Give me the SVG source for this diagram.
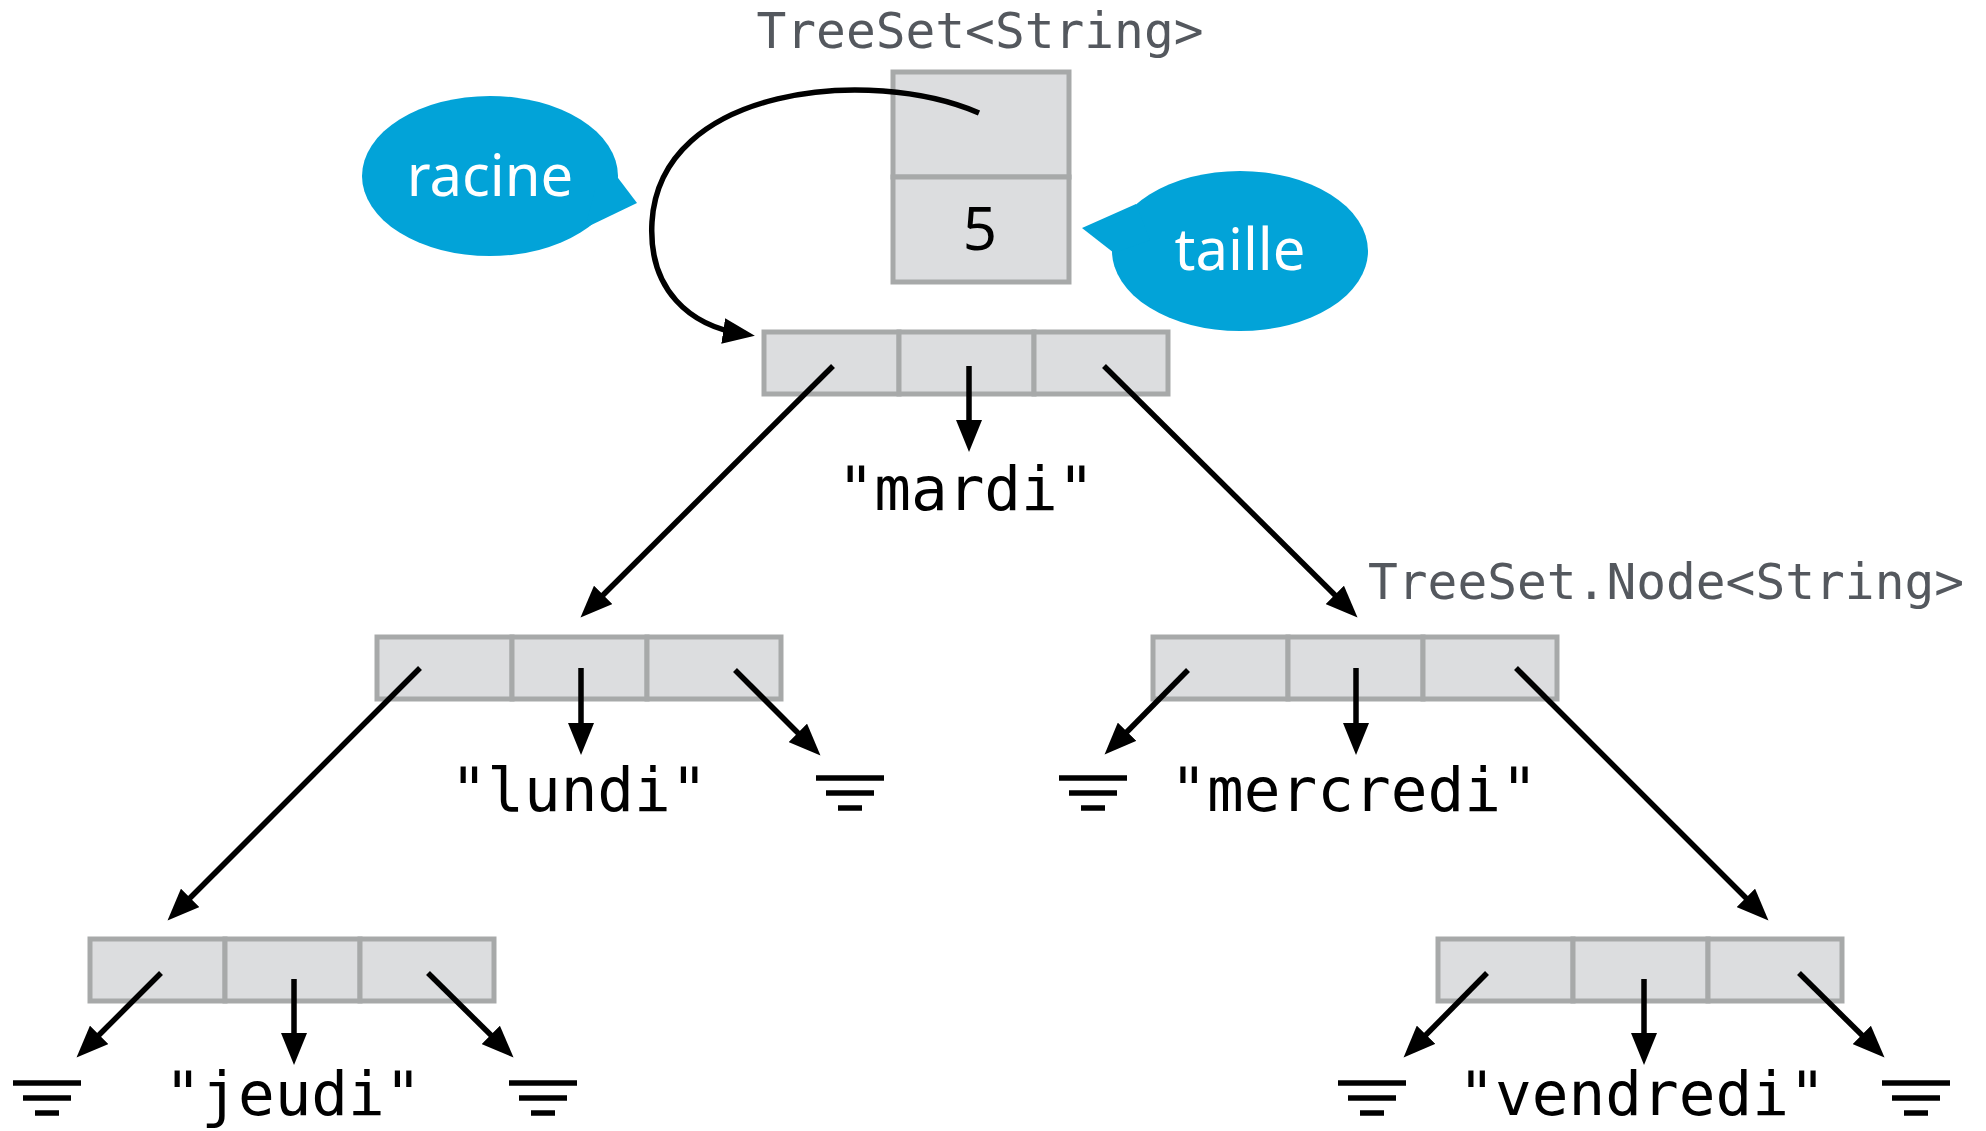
<svg xmlns="http://www.w3.org/2000/svg" width="1986" height="1131" viewBox="0 0 1986 1131">
<defs>
<style>
.cell{fill:#dcdddf;stroke:#a7a9a9;stroke-width:5}
.lbl{font-family:"DejaVu Sans Mono",monospace;font-size:49.5px;fill:#54585e}
.str{font-family:"DejaVu Sans Mono",monospace;font-size:61px;fill:#000;text-anchor:middle}
.bub{fill:#02a3d8}
.btxt{font-family:"Noto Sans","Lato",sans-serif;font-size:58px;fill:#fff;text-anchor:middle}
.c{fill:none;stroke:#000;stroke-width:5.5;marker-end:url(#ah)}
.g{stroke:#000;stroke-width:5.5}
</style>
<marker id="ah" markerUnits="userSpaceOnUse" markerWidth="34" markerHeight="26" refX="20" refY="13" orient="auto" viewBox="0 0 34 26">
<path d="M0,0 L32,13 L0,26 z" fill="#000"/>
</marker>
<g id="gnd">
<line class="g" x1="-34" y1="0" x2="34" y2="0"/>
<line class="g" x1="-24" y1="15" x2="24" y2="15"/>
<line class="g" x1="-12" y1="30" x2="12" y2="30"/>
</g>
</defs>
<rect width="1986" height="1131" fill="#fff"/>

<g id="treeset">
<text class="lbl" x="980" y="48" text-anchor="middle">TreeSet&lt;String&gt;</text>
<rect class="cell" x="893" y="72" width="176" height="105"/>
<rect class="cell" x="893" y="177" width="176" height="105"/>
<text x="980" y="250" font-family="Noto Sans, sans-serif" font-size="60" text-anchor="middle" fill="#000">5</text>
</g>

<g id="bubble-racine">
<ellipse class="bub" cx="490" cy="176" rx="128" ry="80"/>
<polygon class="bub" points="612,170 637,203 585,228 595,190"/>
<text class="btxt" x="490" y="196">racine</text>
</g>
<g id="bubble-taille">
<ellipse class="bub" cx="1240" cy="251" rx="128" ry="80"/>
<polygon class="bub" points="1136,204 1082,228 1114,253 1150,240"/>
<text class="btxt" x="1240" y="270">taille</text>
</g>

<g id="node-mardi">
<rect class="cell" x="764" y="332" width="135" height="62"/>
<rect class="cell" x="899" y="332" width="135" height="62"/>
<rect class="cell" x="1034" y="332" width="134" height="62"/>
<text class="str" x="966" y="510">"mardi"</text>
</g>
<text class="lbl" x="1368" y="599">TreeSet.Node&lt;String&gt;</text>

<g id="node-lundi">
<rect class="cell" x="377" y="637" width="135" height="62"/>
<rect class="cell" x="512" y="637" width="135" height="62"/>
<rect class="cell" x="647" y="637" width="134" height="62"/>
<text class="str" x="579" y="811">"lundi"</text>
</g>
<g id="node-mercredi">
<rect class="cell" x="1153" y="637" width="135" height="62"/>
<rect class="cell" x="1288" y="637" width="135" height="62"/>
<rect class="cell" x="1423" y="637" width="134" height="62"/>
<text class="str" x="1354" y="811">"mercredi"</text>
</g>
<g id="node-jeudi">
<rect class="cell" x="90" y="939" width="135" height="62"/>
<rect class="cell" x="225" y="939" width="135" height="62"/>
<rect class="cell" x="360" y="939" width="134" height="62"/>
<text class="str" x="293" y="1115">"jeudi"</text>
</g>
<g id="node-vendredi">
<rect class="cell" x="1438" y="939" width="135" height="62"/>
<rect class="cell" x="1573" y="939" width="135" height="62"/>
<rect class="cell" x="1708" y="939" width="134" height="62"/>
<text class="str" x="1642" y="1115">"vendredi"</text>
</g>

<g id="nulls">
<use href="#gnd" x="850" y="778"/>
<use href="#gnd" x="1093" y="778"/>
<use href="#gnd" x="47" y="1083"/>
<use href="#gnd" x="543" y="1083"/>
<use href="#gnd" x="1372" y="1083"/>
<use href="#gnd" x="1916" y="1083"/>
</g>

<g id="connectors">
<path class="c" d="M979,113 C870,66 660,86 652,222 C648,290 690,326 743,334"/>
<path class="c" d="M833,366 L589,609"/>
<path class="c" d="M969,366 L969,440"/>
<path class="c" d="M1104,366 L1349,609"/>
<path class="c" d="M420,668 L176,912"/>
<path class="c" d="M581,668 L581,743"/>
<path class="c" d="M735,670 L812,747"/>
<path class="c" d="M1188,670 L1113,746"/>
<path class="c" d="M1356,668 L1356,743"/>
<path class="c" d="M1516,668 L1760,912"/>
<path class="c" d="M161,973 L85,1049"/>
<path class="c" d="M294,979 L294,1053"/>
<path class="c" d="M428,973 L505,1049"/>
<path class="c" d="M1487,973 L1412,1049"/>
<path class="c" d="M1644,979 L1644,1053"/>
<path class="c" d="M1799,973 L1876,1049"/>
</g>
</svg>
